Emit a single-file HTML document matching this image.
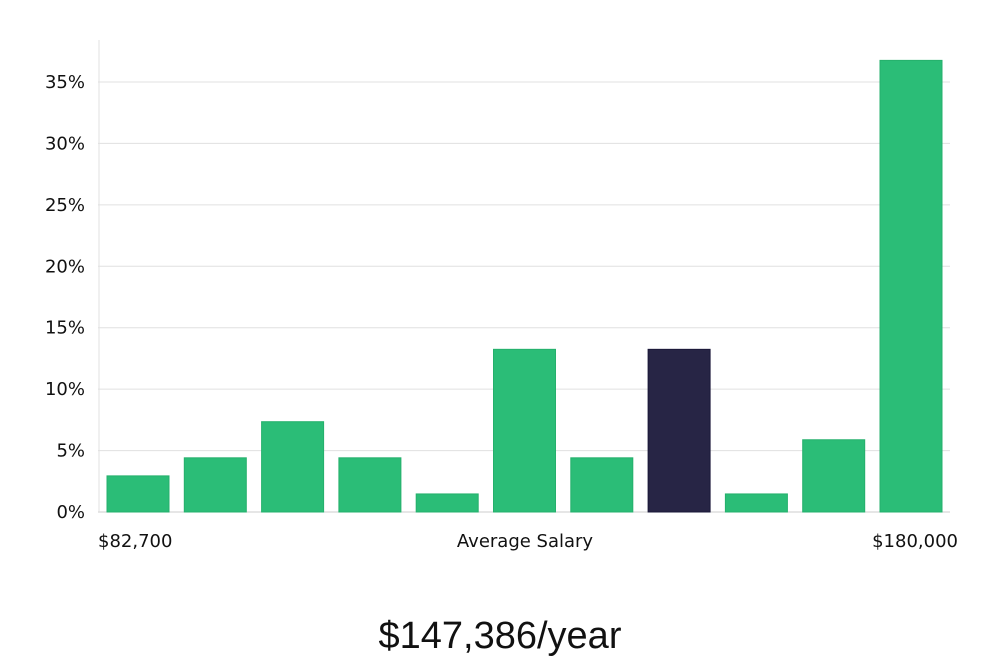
<!DOCTYPE html>
<html><head><meta charset="utf-8"><style>
body{margin:0;background:#fff;width:1000px;height:660px;overflow:hidden;font-family:"DejaVu Sans","Liberation Sans",sans-serif;}
</style></head><body>
<svg id="chart" width="1000" height="660" xmlns="http://www.w3.org/2000/svg"></svg>
<script>
const categories=["b1","b2","b3","b4","b5","b6","b7","b8","b9","b10","b11"];
const values=[2.94,4.41,7.35,4.41,1.47,13.24,4.41,13.24,1.47,5.88,36.76];
const highlight=[false,false,false,false,false,false,false,true,false,false,false];
const yTicks=[0,5,10,15,20,25,30,35];
const xLabels=["$82,700","Average Salary","$180,000"];
const NS="http://www.w3.org/2000/svg";
const svg=document.getElementById('chart');
const y0=512,yPerUnit=(512-82)/35;
function y(v){return y0-v*yPerUnit;}
const xStart=107,step=77.3,bw=62;
function x(i){return xStart+i*step;}
function mk(t,a,p){const e=document.createElementNS(NS,t);for(const k in a)e.setAttribute(k,a[k]);(p||svg).appendChild(e);return e;}
yTicks.forEach(t=>{
  const g=mk('line',{x1:98,x2:950,y1:y(t),y2:y(t),stroke:t===0?'#cccccc':'#e0e0e0','stroke-width':1});
  
  
  const l=mk('text',{x:85,y:y(t)+6,'text-anchor':'end','font-size':18,fill:'#111'});
  l.textContent=t+'%';
  
  
});
const ax=mk('line',{x1:99,x2:99,y1:40,y2:512,stroke:'#e0e0e0','stroke-width':1});


values.forEach((v,i)=>{
  const r=mk('rect',{x:x(i),y:y(v),width:bw,height:y0-y(v),fill:highlight[i]?'#272545':'#2bbd77',stroke:highlight[i]?'#1a1838':'#25b06c','stroke-width':1});
  
  
});
const xl=[[98,'start'],[525,'middle'],[958,'end']];
xLabels.forEach((s,i)=>{
  const t=mk('text',{x:xl[i][0],y:547,'text-anchor':xl[i][1],'font-size':18,fill:'#111'});
  t.textContent=s;
  
  
});
const tt=mk('text',{x:500,y:648,'text-anchor':'middle','font-size':38,fill:'#111','font-family':'Liberation Sans, sans-serif','font-weight':300});
tt.textContent='$147,386/year';


</script>
</body></html>
